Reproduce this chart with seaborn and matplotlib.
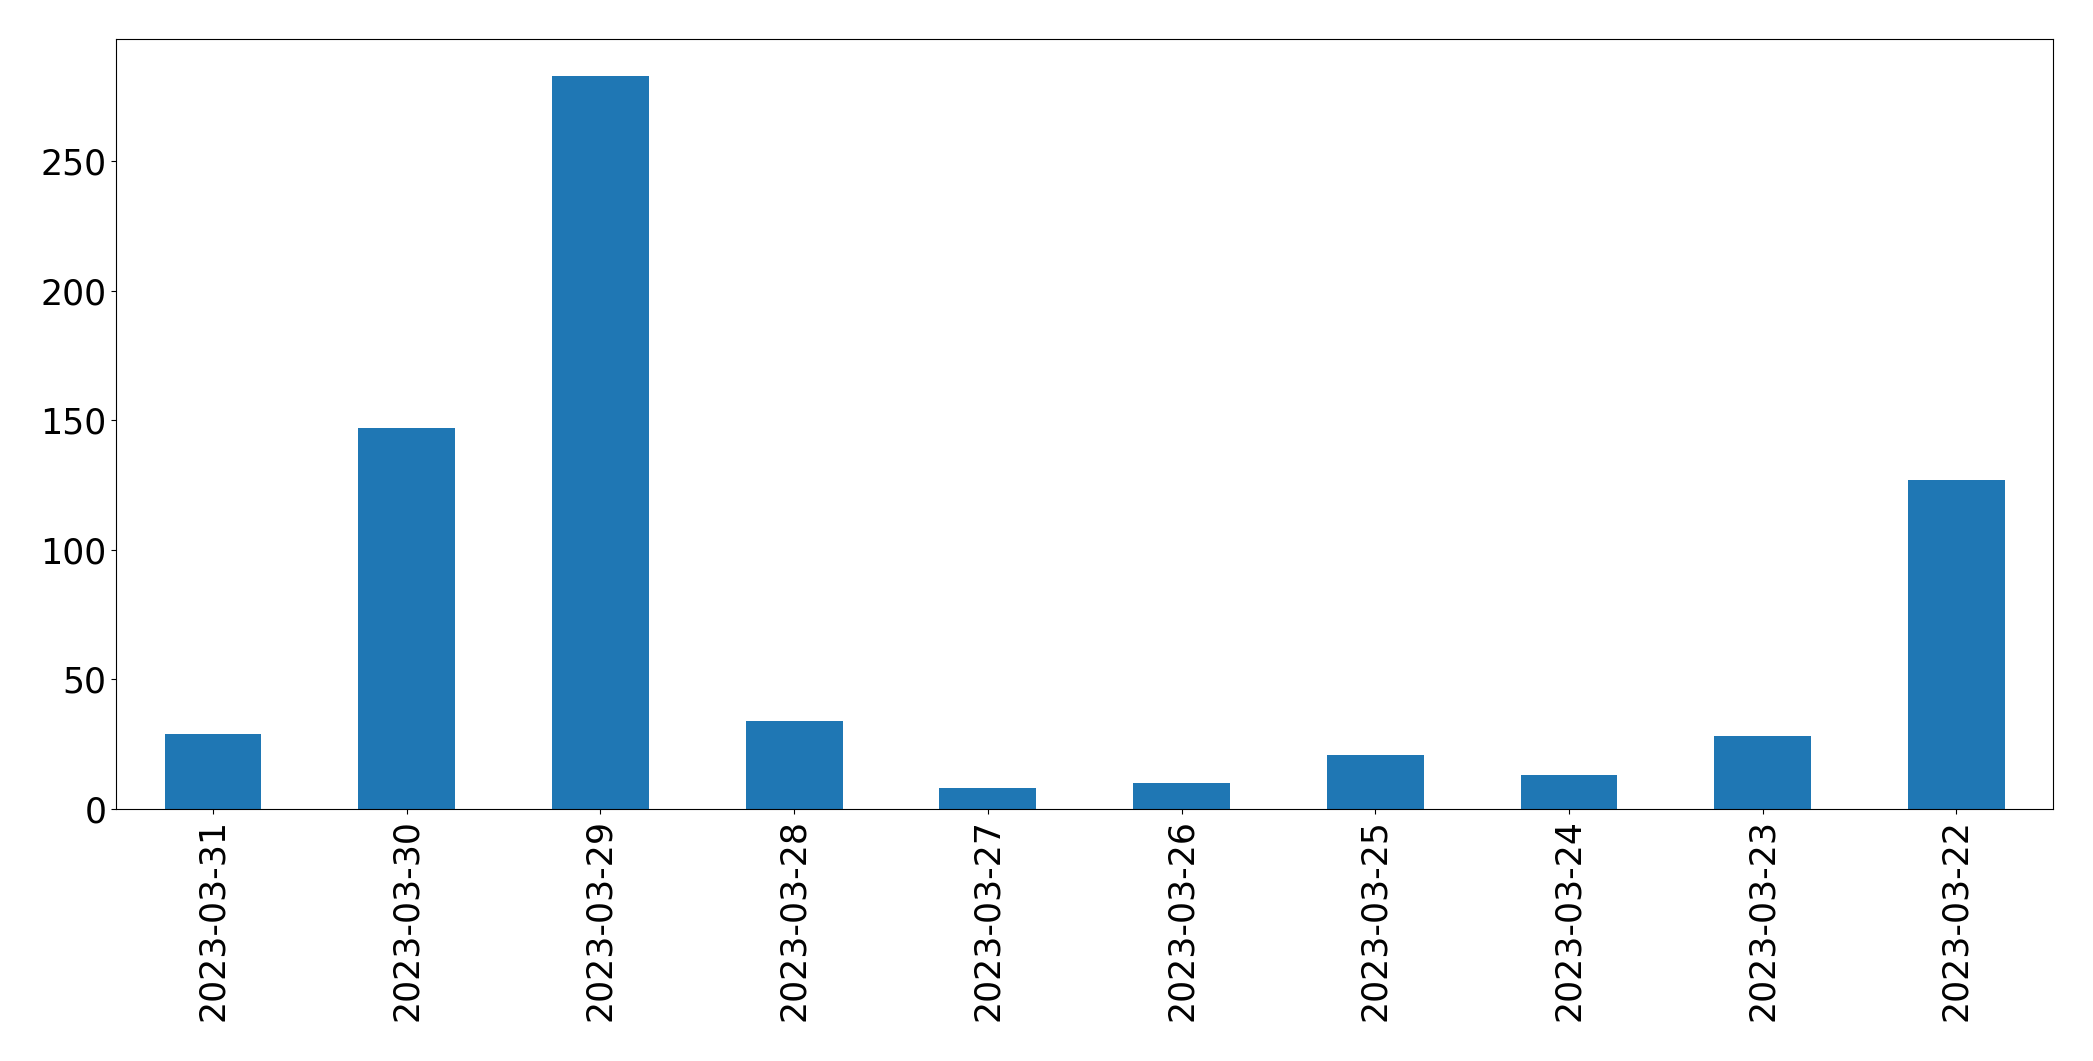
import pandas as pd
import seaborn as sns
import matplotlib.pyplot as plt

dates = ['2023-03-31', '2023-03-30', '2023-03-29', '2023-03-28', '2023-03-27',
         '2023-03-26', '2023-03-25', '2023-03-24', '2023-03-23', '2023-03-22']
counts = [29, 147, 283, 34, 8, 10, 21, 13, 28, 127]

df = pd.DataFrame({'date': dates, 'count': counts})

fig, ax = plt.subplots(figsize=(20.93, 10.61), dpi=100)
sns.barplot(data=df, x='date', y='count', order=dates, color='#1f77b4',
            saturation=1, width=0.5, ax=ax)
ax.set_xlim(-0.5, len(dates) - 0.5)
ax.set_ylim(0, max(counts) * 1.05)
ax.set_xlabel('')
ax.set_ylabel('')
ax.tick_params(axis='both', labelsize=25)
ax.tick_params(axis='x', labelrotation=90)
for s in ax.spines.values():
    s.set_color('black')
fig.subplots_adjust(left=0.0555, right=0.981, top=0.963, bottom=0.2375)
fig.savefig('out.png')
